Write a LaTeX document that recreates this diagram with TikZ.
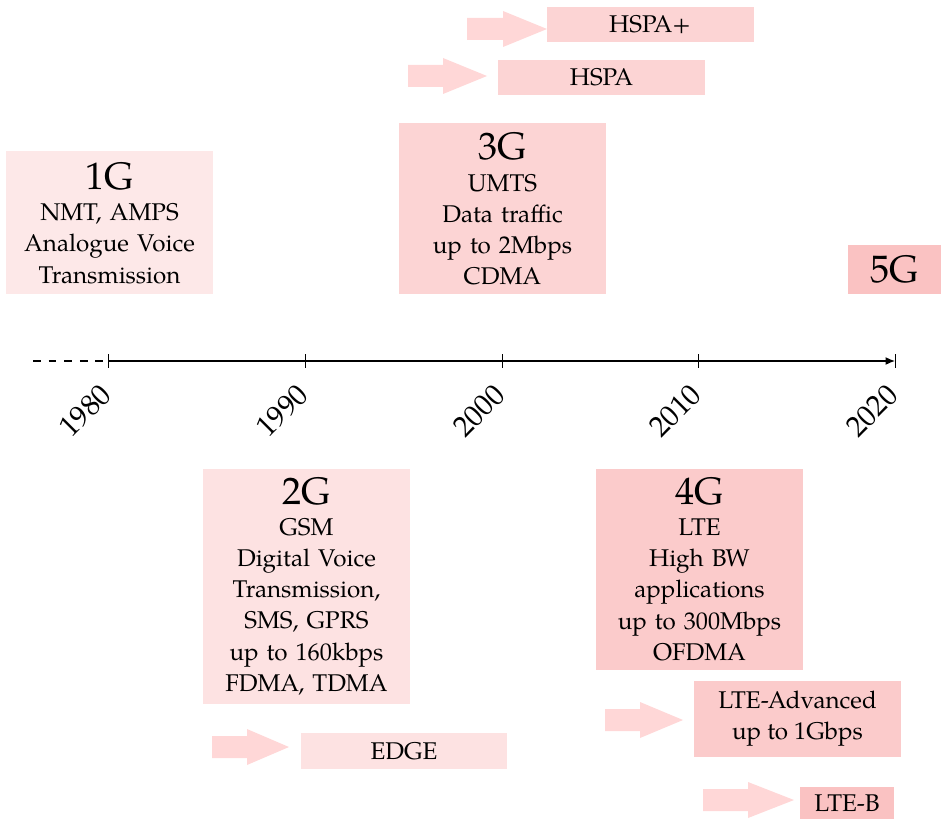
\documentclass[tikz,border=0pt]{standalone}
\usepackage{fontspec}
\setmainfont{TeX Gyre Pagella}
\usetikzlibrary{arrows.meta}

\definecolor{gA}{RGB}{253,232,232}
\definecolor{gB}{RGB}{253,226,226}
\definecolor{gC}{RGB}{252,212,212}
\definecolor{gD}{RGB}{251,203,203}
\definecolor{gE}{RGB}{250,194,194}
\definecolor{arrowpink}{RGB}{255,215,215}

\newcommand{\bodysize}{\fontsize{9.3pt}{12pt}\selectfont}
\newcommand{\gensize}{\fontsize{14.7pt}{16pt}\selectfont}
\newcommand{\yearsize}{\fontsize{11.3pt}{13pt}\selectfont}

\tikzset{
  gen/.style={fill=#1, text width=75pt, align=center, inner sep=2.3pt, minimum width=79.6pt},
  tech/.style={fill=#1, align=center, inner sep=2pt, minimum width=79.6pt, minimum height=13.5pt},
  year/.style={rotate=45, anchor=east, inner sep=1pt, font=\yearsize},
  tick/.style={line width=0.35pt},
  axisline/.style={line width=0.45pt},
}

% fat block arrow: left x, head start x, tip x, centre y (pixel grid)
\newcommand{\blockarrow}[4]{%
  \fill[arrowpink] (#1,#4-11) -- (#2,#4-11) -- (#2,#4-18) -- (#3,#4)
    -- (#2,#4+18) -- (#2,#4+11) -- (#1,#4+11) -- cycle;}

\begin{document}
\begin{tikzpicture}[x=0.3846pt, y=-0.3846pt, font=\bodysize]
\useasboundingbox (0,0) rectangle (941,820);

% time axis
\coordinate (start) at (33,361);
\coordinate (t1980) at (108,361);
\coordinate (t2020) at (895,361);
\draw[axisline, dashed] (start) -- (t1980);
\draw[axisline, -{Latex[length=3.6pt,width=3pt]}] (t1980) -- (t2020);
\foreach \yr/\x in {1980/108, 1990/305, 2000/502, 2010/698, 2020/895}{
  \draw[tick] (\x,354) -- (\x,368);
  \node[year] (y\yr) at (\x,388) {\yr};
}

% generations above the axis
\node[gen=gA, minimum height=55pt, anchor=south] (g1) at (109.5,295)
  {{\gensize 1G}\\ NMT, AMPS\\ Analogue Voice\\ Transmission};
\node[gen=gC, minimum height=65.8pt, anchor=south] (g3) at (502.5,295)
  {{\gensize 3G}\\ UMTS\\ Data traffic\\ up to 2Mbps\\ CDMA};
\node[fill=gE, minimum width=35.4pt, minimum height=19.2pt, inner sep=0pt, anchor=south east] (g5) at (941,295)
  {\gensize 5G};

% generations below the axis
\node[gen=gB, minimum height=90.4pt, anchor=north] (g2) at (306.5,468)
  {{\gensize 2G}\\ GSM\\ Digital Voice\\ Transmission,\\ SMS, GPRS\\ up to 160kbps\\ FDMA, TDMA};
\node[gen=gD, minimum height=77.3pt, anchor=north] (g4) at (699.5,468)
  {{\gensize 4G}\\ LTE\\ High BW\\ applications\\ up to 300Mbps\\ OFDMA};

% evolutions
\node[tech=gC] (hspa) at (601.5,77.5) {HSPA};
\node[tech=gC] (hspap) at (650,24.5) {HSPA+};
\node[tech=gB] (edge) at (404,751) {EDGE};
\node[tech=gD, minimum height=29.2pt] (ltea) at (797.5,719) {LTE-Advanced\\ up to 1Gbps};
\node[tech=gE, minimum width=36.2pt, minimum height=12.3pt] (lteb) at (847,803) {LTE-B};

\blockarrow{408}{443}{487}{76}
\blockarrow{467}{503}{547}{29}
\blockarrow{212}{247}{289}{747}
\blockarrow{605}{640}{683}{720}
\blockarrow{703}{748}{794}{800}
\end{tikzpicture}
\end{document}
